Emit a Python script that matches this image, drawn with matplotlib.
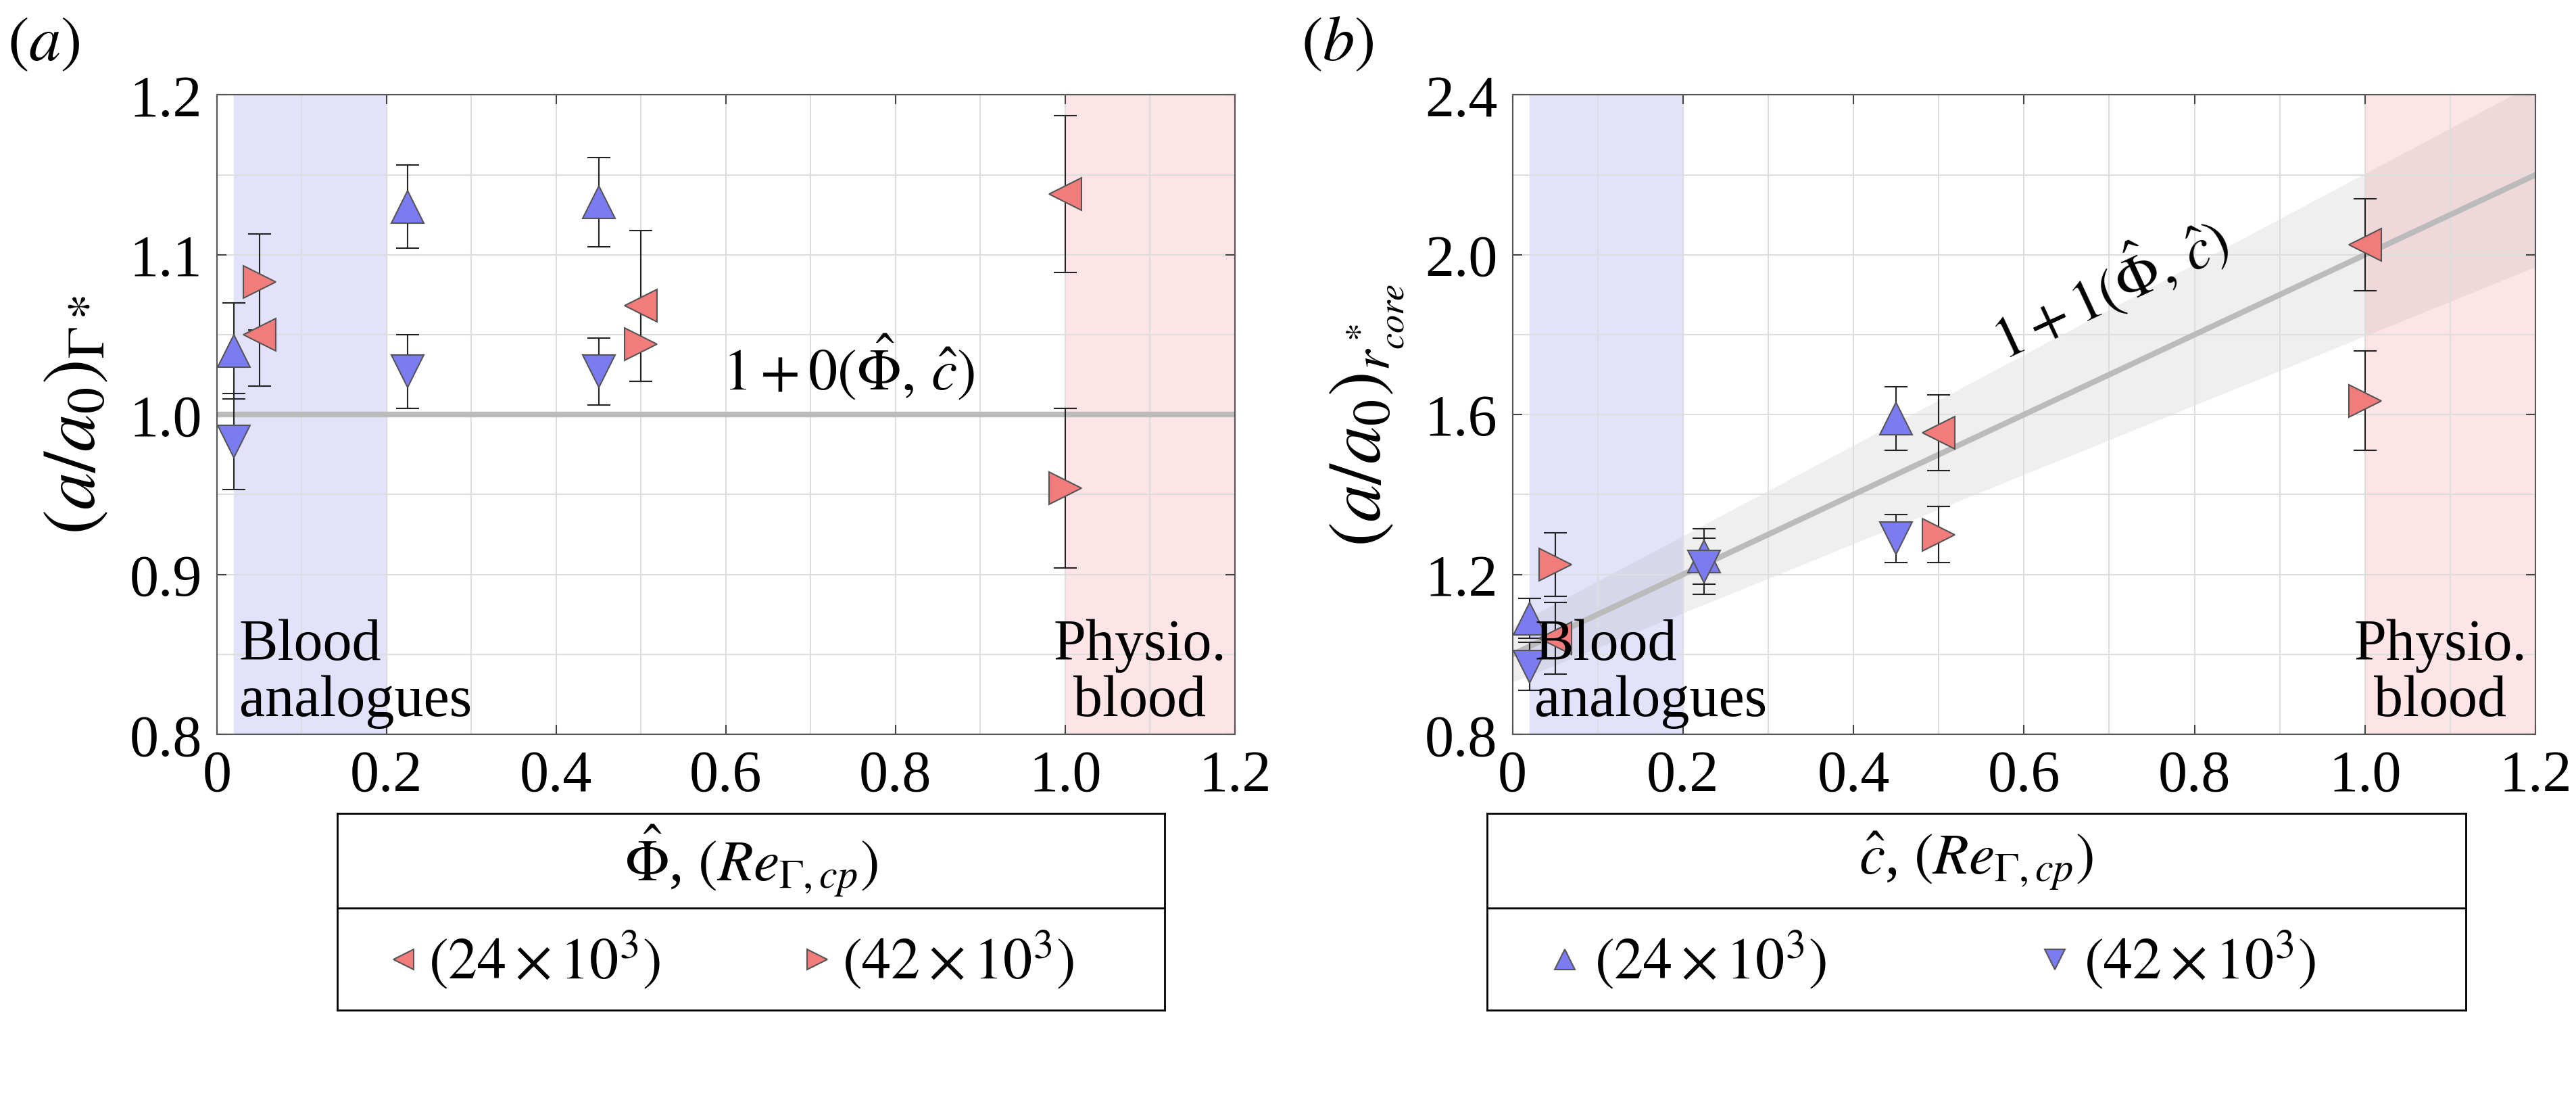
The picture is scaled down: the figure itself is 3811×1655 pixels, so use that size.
import matplotlib
matplotlib.use('Agg')
import matplotlib.pyplot as plt
import numpy as np

plt.rcParams['font.family'] = ['Liberation Serif', 'DejaVu Serif']
plt.rcParams['mathtext.fontset'] = 'stix'

# panel (a): (a/a0)_Gamma*
a_c = [0.02, 0.225, 0.45]
a_up = [1.040, 1.130, 1.133]
a_up_err = [0.030, 0.026, 0.028]
a_dn = [0.983, 1.027, 1.027]
a_dn_err = [0.030, 0.023, 0.021]
a_phi = [0.05, 0.5, 1.0]
a_left = [1.050, 1.068, 1.138]
a_left_err = [0.032, 0.047, 0.049]
a_right = [1.083, 1.044, 0.954]
a_right_err = [0.030, 0.023, 0.050]

# panel (b): (a/a0)_r*core
b_c = [0.02, 0.225, 0.45]
b_up = [1.09, 1.245, 1.59]
b_up_err = [0.05, 0.07, 0.08]
b_dn = [0.97, 1.22, 1.29]
b_dn_err = [0.06, 0.07, 0.06]
b_phi = [0.05, 0.5, 1.0]
b_left = [1.04, 1.555, 2.025]
b_left_err = [0.09, 0.095, 0.115]
b_right = [1.225, 1.30, 1.635]
b_right_err = [0.08, 0.07, 0.125]

fit_x = [0.0, 1.2]
fit_a = [1.0, 1.0]
fit_b = [1.0, 2.2]
band_lo = [0.93, 1.97]
band_hi = [1.07, 2.43]

BLUE = '#7b7bf2'
RED = '#f27b7b'
EDGE = '#555555'
FS = 62
PHI = r'\hat{\mathit{\Phi}}'
GAM = r'\mathit{\Gamma}'

fig = plt.figure(figsize=(38.12, 16.56), dpi=100)
ax_a = fig.add_axes([0.0842, 0.3436, 0.395, 0.571])
ax_b = fig.add_axes([0.587, 0.3436, 0.397, 0.571])


def style(ax, ylim, ymajor, yminor):
    ax.axvspan(0.02, 0.2, color='#e2e2fb', zorder=0)
    ax.axvspan(1.0, 1.2, color='#fde4e6', zorder=0)
    ax.set_xlim(0, 1.2)
    ax.set_ylim(*ylim)
    ax.set_xticks([0, 0.2, 0.4, 0.6, 0.8, 1.0, 1.2])
    ax.set_xticklabels(['0', '0.2', '0.4', '0.6', '0.8', '1.0', '1.2'])
    ax.set_xticks(np.arange(0, 1.21, 0.1), minor=True)
    ax.set_yticks(ymajor)
    ax.set_yticklabels([f'{v:.1f}' for v in ymajor])
    ax.set_yticks(yminor, minor=True)
    ax.grid(True, which='both', color='#dddddd', lw=1.5, zorder=0.5)
    ax.tick_params(which='both', direction='in', top=True, right=True,
                   labelsize=FS, length=10, width=1.5, pad=16, color='#444444')
    ax.tick_params(which='minor', length=0)
    for s in ax.spines.values():
        s.set_color('#555555')
        s.set_linewidth(1.5)
    ax.set_xlabel(rf'${PHI}$, $\hat{{c}}$', fontsize=68, labelpad=30)
    ax.text(0.026, ylim[0] + 0.01 * (ylim[1] - ylim[0]), 'Blood\nanalogues',
            fontsize=FS, va='bottom', ha='left', linespacing=1.05, zorder=6)
    ax.text(1.19, ylim[0] + 0.01 * (ylim[1] - ylim[0]), 'Physio.\nblood',
            fontsize=FS, va='bottom', ha='right', linespacing=1.05, zorder=6,
            multialignment='center')


def points(ax, x, y, e, marker, color):
    ax.errorbar(x, y, yerr=e, fmt='none', ecolor='#222222', elinewidth=1.5,
                capsize=12, capthick=1.5, zorder=3)
    ax.plot(x, y, ls='none', marker=marker, ms=34, mfc=color, mec=EDGE,
            mew=1.5, zorder=4)


style(ax_a, (0.8, 1.2), [0.8, 0.9, 1.0, 1.1, 1.2], np.arange(0.8, 1.201, 0.05))
ax_a.plot(fit_x, fit_a, color='#bbbbbb', lw=6, zorder=2)
points(ax_a, a_c, a_up, a_up_err, '^', BLUE)
points(ax_a, a_c, a_dn, a_dn_err, 'v', BLUE)
points(ax_a, a_phi, a_left, a_left_err, '<', RED)
points(ax_a, a_phi, a_right, a_right_err, '>', RED)
ax_a.text(0.745, 1.008, rf'$1+0({PHI},\,\hat{{c}})$', fontsize=FS, ha='center', va='bottom')
ax_a.set_ylabel(rf'$(a/a_0)_{{{GAM} *}}$', fontsize=80, labelpad=20)
fig.text(0.003, 0.985, r'$(a)$', fontsize=68, va='top')

style(ax_b, (0.8, 2.4), [0.8, 1.2, 1.6, 2.0, 2.4], np.arange(0.8, 2.401, 0.2))
ax_b.fill_between(fit_x, band_lo, band_hi, color='#999999', alpha=0.15, lw=0, zorder=1)
ax_b.plot(fit_x, fit_b, color='#bbbbbb', lw=6, zorder=2)
points(ax_b, b_c, b_up, b_up_err, '^', BLUE)
points(ax_b, b_c, b_dn, b_dn_err, 'v', BLUE)
points(ax_b, b_phi, b_left, b_left_err, '<', RED)
points(ax_b, b_phi, b_right, b_right_err, '>', RED)
ax_b.text(0.70, 1.92, rf'$1+1({PHI},\,\hat{{c}})$', fontsize=FS, ha='center', va='center',
          rotation=25, rotation_mode='anchor')
ax_b.set_ylabel(r'$(a/a_0)_{r^*_{core}}$', fontsize=80, labelpad=20)
fig.text(0.505, 0.985, r'$(b)$', fontsize=68, va='top')


def legend_box(rect, title, m1, m2, color):
    lg = fig.add_axes(rect)
    lg.set_xlim(0, 1)
    lg.set_ylim(0, 1)
    lg.set_xticks([])
    lg.set_yticks([])
    for s in lg.spines.values():
        s.set_linewidth(2)
    lg.axhline(0.52, color='black', lw=2)
    lg.text(0.5, 0.76, title, fontsize=FS, ha='center', va='center')
    lg.plot([0.08], [0.26], marker=m1, ms=22, mfc=color, mec=EDGE, mew=1.5, ls='none')
    lg.plot([0.58], [0.26], marker=m2, ms=22, mfc=color, mec=EDGE, mew=1.5, ls='none')
    lg.text(0.11, 0.26, r'$(24\times10^3)$', fontsize=FS, va='center')
    lg.text(0.61, 0.26, r'$(42\times10^3)$', fontsize=FS, va='center')


legend_box([0.131, 0.097, 0.321, 0.176], rf'${PHI}$, $(Re_{{{GAM},cp}})$', '<', '>', RED)
legend_box([0.577, 0.097, 0.380, 0.176], rf'$\hat{{c}}$, $(Re_{{{GAM},cp}})$', '^', 'v', BLUE)

fig.savefig('out.png', dpi=100)
